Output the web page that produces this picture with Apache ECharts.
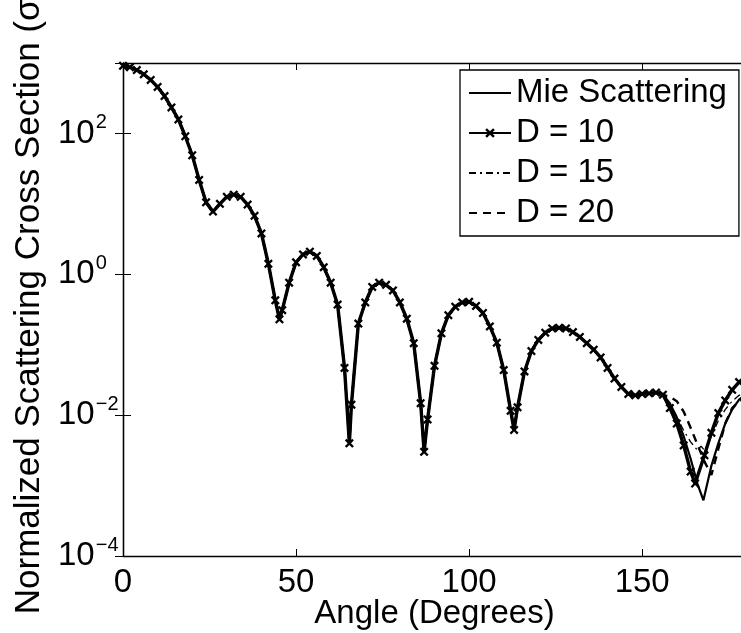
<!DOCTYPE html>
<html>
<head>
<meta charset="utf-8">
<script src="https://cdn.jsdelivr.net/npm/echarts@6/dist/echarts.min.js"></script>
<style>
html,body{margin:0;padding:0;background:#fff;}
#chart{width:741px;height:633px;}
</style>
</head>
<body>
<div id="chart"></div>
<script>
// Shared part of all four curves (0–156 degrees)
const commonAngles = [0,2,4,6,8,10,12,14,16,18,20,22,24,26,28,30,32,34,36,38,40,42,44,45.2,46,48,50,52,54,56,58,60,62,64,65.4,66,68,70,72,74,76,78,80,82,84,86,87,88,90,92,94,96,98,100,102,104,106,108,110,112,113,114,116,118,120,122,124,126,128,130,132,134,136,138,140,142,144,146,148,150,152,154,156];
const commonValues = [912,871,794,692,575,457,339,234,158,91.2,49.0,21.9,10.5,7.76,10.0,12.6,13.5,12.6,9.77,6.76,3.80,1.41,0.427,0.229,0.309,0.759,1.48,1.91,2.09,1.82,1.26,0.759,0.372,0.0468,0.00398,0.0141,0.200,0.398,0.661,0.759,0.708,0.589,0.398,0.234,0.105,0.0148,0.00302,0.0087,0.0501,0.145,0.263,0.347,0.398,0.407,0.355,0.282,0.182,0.107,0.0437,0.0115,0.00617,0.0129,0.0417,0.0813,0.117,0.148,0.170,0.174,0.170,0.151,0.129,0.105,0.0851,0.0661,0.0468,0.0331,0.0251,0.0200,0.0191,0.0200,0.0204,0.0209,0.0195];

// Tails where the curves separate (158–180 degrees)
const mieTailAngles = [158,160,162,164,166,167.7,170,172,174,176,178,180];
const mieTail = [0.0148,0.00933,0.00501,0.00240,0.00105,0.000617,0.00191,0.00398,0.00759,0.0120,0.0166,0.0200];
const d10TailAngles = [158,160,162,164,165.3,168,170,172,174,176,178,180];
const d10Tail = [0.0126,0.00759,0.00372,0.00158,0.00107,0.00269,0.00562,0.0107,0.0162,0.0229,0.0295,0.0355];
const d15TailAngles = [158,160,162,164,166,167,168,170,172,174,176,178,180];
const d15Tail = [0.0141,0.00955,0.00603,0.00417,0.00316,0.00363,0.00316,0.00501,0.00832,0.0120,0.0158,0.0191,0.0219];
const d20TailAngles = [158,160,162,164,166,168,170,172,174,176,178,180];
const d20Tail = [0.0182,0.0158,0.0112,0.00661,0.00380,0.00219,0.00141,0.00331,0.00759,0.0126,0.0158,0.0178];

const seriesNames = ['Mie Scattering','D = 10','D = 15','D = 20'];
const xTicks = [0,50,100,150];
const yTickExponents = [-4,-2,0,2];
const yTitle = 'Normalized Scattering Cross Section (σ)';
const xTitle = 'Angle (Degrees)';

function pairs(a, v){ return a.map((x,i)=>[x, v[i]]); }
const common = pairs(commonAngles, commonValues);
const mieData = common.concat(pairs(mieTailAngles, mieTail));
const d10Data = common.concat(pairs(d10TailAngles, d10Tail));
const d15Data = common.concat(pairs(d15TailAngles, d15Tail));
const d20Data = common.concat(pairs(d20TailAngles, d20Tail));

const FONT = 'Liberation Sans';
const xMark = 'path://M0,1.8L1.8,0L5,3.2L8.2,0L10,1.8L6.8,5L10,8.2L8.2,10L5,6.8L1.8,10L0,8.2L3.2,5Z';

const chart = echarts.init(document.getElementById('chart'), null, {renderer:'canvas'});
const axisLine = {show:true, lineStyle:{color:'#000', width:1.3}};
const hiddenSym = {opacity:0};
const option = {
  animation:false,
  backgroundColor:'#fff',
  textStyle:{fontFamily:FONT, color:'#000'},
  grid:{left:123, top:63, right:-5, bottom:77, containLabel:false, outerBoundsMode:'none'},
  legend:{
    left:460, top:70, orient:'vertical',
    data:[
      {name:seriesNames[0], itemStyle:hiddenSym},
      {name:seriesNames[1]},
      {name:seriesNames[2], itemStyle:hiddenSym},
      {name:seriesNames[3], itemStyle:hiddenSym}
    ],
    itemWidth:42, itemHeight:12, itemGap:0,
    padding:[3,12,3,8],
    borderColor:'#000', borderWidth:1.3, backgroundColor:'#fff',
    textStyle:{fontFamily:FONT, fontSize:33, color:'#000', lineHeight:40},
    inactiveColor:'#000'
  },
  graphic:[{
    type:'text', x:29, y:301, rotation:Math.PI/2,
    style:{text:yTitle, fontFamily:FONT, fontSize:35, fill:'#000', align:'center', verticalAlign:'middle'}
  }],
  xAxis:[{
    type:'value', min:0, max:180, interval:50, position:'bottom',
    name:xTitle, nameLocation:'middle', nameGap:41, nameMoveOverlap:false,
    nameTextStyle:{fontFamily:FONT, fontSize:33, color:'#000'},
    axisLine:axisLine,
    axisTick:{show:true, inside:true, length:7, lineStyle:{color:'#000', width:1}},
    axisLabel:{fontFamily:FONT, fontSize:33, color:'#000', margin:10, showMaxLabel:false,
      formatter:v=> xTicks.indexOf(v)>=0 ? String(v) : ''},
    splitLine:{show:false}
  },{
    type:'value', min:0, max:180, interval:50, position:'top',
    axisLine:axisLine,
    axisTick:{show:true, inside:true, length:7, lineStyle:{color:'#000', width:1}},
    axisLabel:{show:false}, splitLine:{show:false}
  }],
  yAxis:[{
    type:'log', logBase:10, min:1e-4, max:1e3, interval:2, position:'left',
    axisLine:axisLine,
    axisTick:{show:true, inside:true, length:8, lineStyle:{color:'#000', width:1}},
    axisLabel:{
      margin:65, align:'left', showMaxLabel:false,
      formatter:function(v){
        const e = Math.round(Math.log10(v));
        if (yTickExponents.indexOf(e) < 0) return '';
        return '{b|10}{s|' + (e<0 ? '\u2212' + (-e) : e) + '}';
      },
      rich:{
        b:{fontFamily:FONT, fontSize:33, color:'#000'},
        s:{fontFamily:FONT, fontSize:20, color:'#000', padding:[0,0,22,1]}
      }
    },
    splitLine:{show:false}
  },{
    type:'log', logBase:10, min:1e-4, max:1e3, interval:2, position:'right',
    axisLine:axisLine,
    axisTick:{show:true, inside:true, length:8, lineStyle:{color:'#000', width:1}},
    axisLabel:{show:false}, splitLine:{show:false}
  }],
  series:[
    {name:seriesNames[0], type:'line', data:mieData, symbol:'none', color:'#000',
     lineStyle:{color:'#000', width:2.2, type:'solid'}, z:3},
    {name:seriesNames[1], type:'line', data:d10Data, symbol:xMark, symbolSize:9,
     showSymbol:true, showAllSymbol:true, color:'#000',
     itemStyle:{color:'#000'},
     lineStyle:{color:'#000', width:3.4, type:'solid'}, z:4},
    {name:seriesNames[2], type:'line', data:d15Data, symbol:'none', color:'#000',
     lineStyle:{color:'#000', width:1.3, type:[7,4,2,4]}, z:2},
    {name:seriesNames[3], type:'line', data:d20Data, symbol:'none', color:'#000',
     lineStyle:{color:'#000', width:2.4, type:[8,6]}, z:2}
  ]
};
chart.setOption(option);
</script>
</body>
</html>
